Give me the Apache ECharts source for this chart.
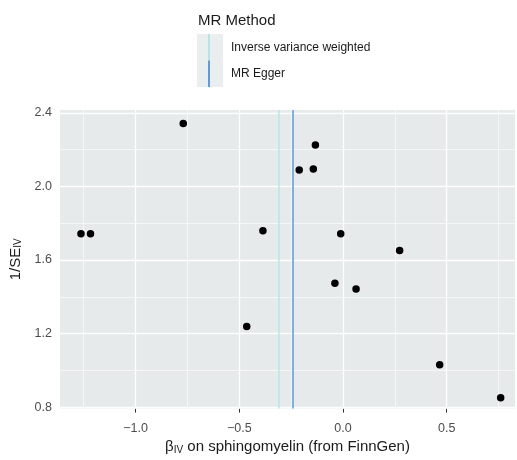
<!DOCTYPE html>
<html>
<head>
<meta charset="utf-8">
<script src="https://cdn.jsdelivr.net/npm/echarts@6/dist/echarts.min.js"></script>
<style>
html,body{margin:0;padding:0;background:#fff;}
#chart{width:517px;height:460px;}
</style>
</head>
<body>
<div id="chart"></div>
<script>
// ---- data ----
const betaIV = [-0.770, -0.133, -0.211, -0.143, -1.263, -1.217, -0.386, -0.011, 0.273, -0.039, 0.063, -0.464, 0.466, 0.760];
const invSE  = [ 2.342,  2.226,  2.089,  2.095,  1.743,  1.743,  1.759,  1.743, 1.652,  1.474, 1.443,  1.239, 1.030, 0.851];
const methodNames = ['Inverse variance weighted', 'MR Egger'];
const methodEstimates = [-0.313, -0.244];
const xTicks = [-1.0, -0.5, 0.0, 0.5];
const xMinorTicks = [-1.25, -0.75, -0.25, 0.25, 0.75];
const yTicks = [0.8, 1.2, 1.6, 2.0, 2.4];
const yMinorTicks = [1.0, 1.4, 1.8, 2.2];

// ---- style ----
const methodColors = ['#b3e6e8', '#5a9ae8'];
const panelBg = '#e6eaea';
const X_MIN = -1.364, X_MAX = 0.829, Y_MIN = 0.792, Y_MAX = 2.416;

const chart = echarts.init(document.getElementById('chart'), null, {renderer: 'canvas'});

const fmt = v => (v < 0 ? '\u2212' : '') + Math.abs(v).toFixed(1);

const gridLines = [];
xMinorTicks.forEach(v => gridLines.push({xAxis: v, lineStyle: {width: 0.6}}));
yMinorTicks.forEach(v => gridLines.push({yAxis: v, lineStyle: {width: 0.6}}));
xTicks.forEach(v => gridLines.push({xAxis: v, lineStyle: {width: 1.3}}));
yTicks.forEach(v => gridLines.push({yAxis: v, lineStyle: {width: 1.3}}));

const series = [
  {
    name: '_grid', type: 'line', data: [], silent: true, z: 1,
    markLine: {
      silent: true, symbol: 'none', animation: false,
      label: {show: false},
      lineStyle: {color: '#ffffff', type: 'solid'},
      data: gridLines
    }
  }
];
methodNames.forEach((n, i) => {
  series.push({
    name: n, type: 'line', data: [], z: 2,
    color: methodColors[i],
    itemStyle: {color: methodColors[i]},
    lineStyle: {color: methodColors[i]},
    markLine: {
      silent: true, symbol: 'none', animation: false,
      label: {show: false},
      lineStyle: {color: methodColors[i], width: 1.5, type: 'solid', opacity: 1},
      data: [{xAxis: methodEstimates[i]}]
    }
  });
});
series.push({
  name: 'SNPs', type: 'scatter', z: 5,
  symbol: 'circle', symbolSize: 7.5,
  itemStyle: {color: '#000000', opacity: 1},
  data: betaIV.map((b, i) => [b, invSE[i]])
});

chart.setOption({
  animation: false,
  backgroundColor: '#ffffff',
  textStyle: {fontFamily: 'Liberation Sans, Arial, sans-serif'},
  title: {
    text: 'MR Method', left: 193, top: 8,
    textStyle: {fontSize: 15, fontWeight: 'normal', color: '#1a1a1a', fontFamily: 'Liberation Sans, Arial, sans-serif'}
  },
  legend: {
    data: methodNames,
    orient: 'vertical', left: 208, top: 34,
    icon: 'rect', itemWidth: 2, itemHeight: 26.5, itemGap: 0,
    padding: 0,
    textStyle: {fontSize: 12, color: '#1a1a1a', padding: [0, 0, 0, 16]},
    selectedMode: false
  },
  graphic: [{
    type: 'rect', left: 197, top: 34, z: -1,
    shape: {width: 26, height: 53},
    style: {fill: '#ebeeee'}
  }],
  grid: {
    left: 60, top: 110, width: 455, height: 302,
    show: true, backgroundColor: panelBg, borderWidth: 0
  },
  xAxis: {
    type: 'value', min: X_MIN, max: X_MAX,
    axisLine: {show: false},
    splitLine: {show: false},
    axisTick: {show: true, customValues: xTicks, length: 4, lineStyle: {color: '#333333', width: 1}},
    axisLabel: {customValues: xTicks, formatter: fmt, fontSize: 12.5, color: '#4d4d4d', margin: 13},
    name: '{b|\u03b2}{s|IV}{t| on sphingomyelin (from FinnGen)}',
    nameLocation: 'middle', nameGap: 30,
    nameTextStyle: {
      fontSize: 15, color: '#1a1a1a',
      rich: {
        b: {fontSize: 15, color: '#1a1a1a'},
        s: {fontSize: 10, color: '#1a1a1a', verticalAlign: 'bottom', padding: [6, 0, 0, 0]},
        t: {fontSize: 15, color: '#1a1a1a'}
      }
    }
  },
  yAxis: {
    type: 'value', min: Y_MIN, max: Y_MAX,
    axisLine: {show: false},
    splitLine: {show: false},
    axisTick: {show: true, customValues: yTicks, length: 4, lineStyle: {color: '#333333', width: 1}},
    axisLabel: {customValues: yTicks, formatter: v => v.toFixed(1), fontSize: 12.5, color: '#4d4d4d', margin: 8},
    name: '1/SE{s|IV}',
    nameLocation: 'middle', nameGap: 32, nameRotate: 90,
    nameTextStyle: {
      fontSize: 15, color: '#1a1a1a',
      rich: {
        s: {fontSize: 10, color: '#1a1a1a', verticalAlign: 'bottom', padding: [6, 0, 0, 0]}
      }
    }
  },
  series: series
});
</script>
</body>
</html>
